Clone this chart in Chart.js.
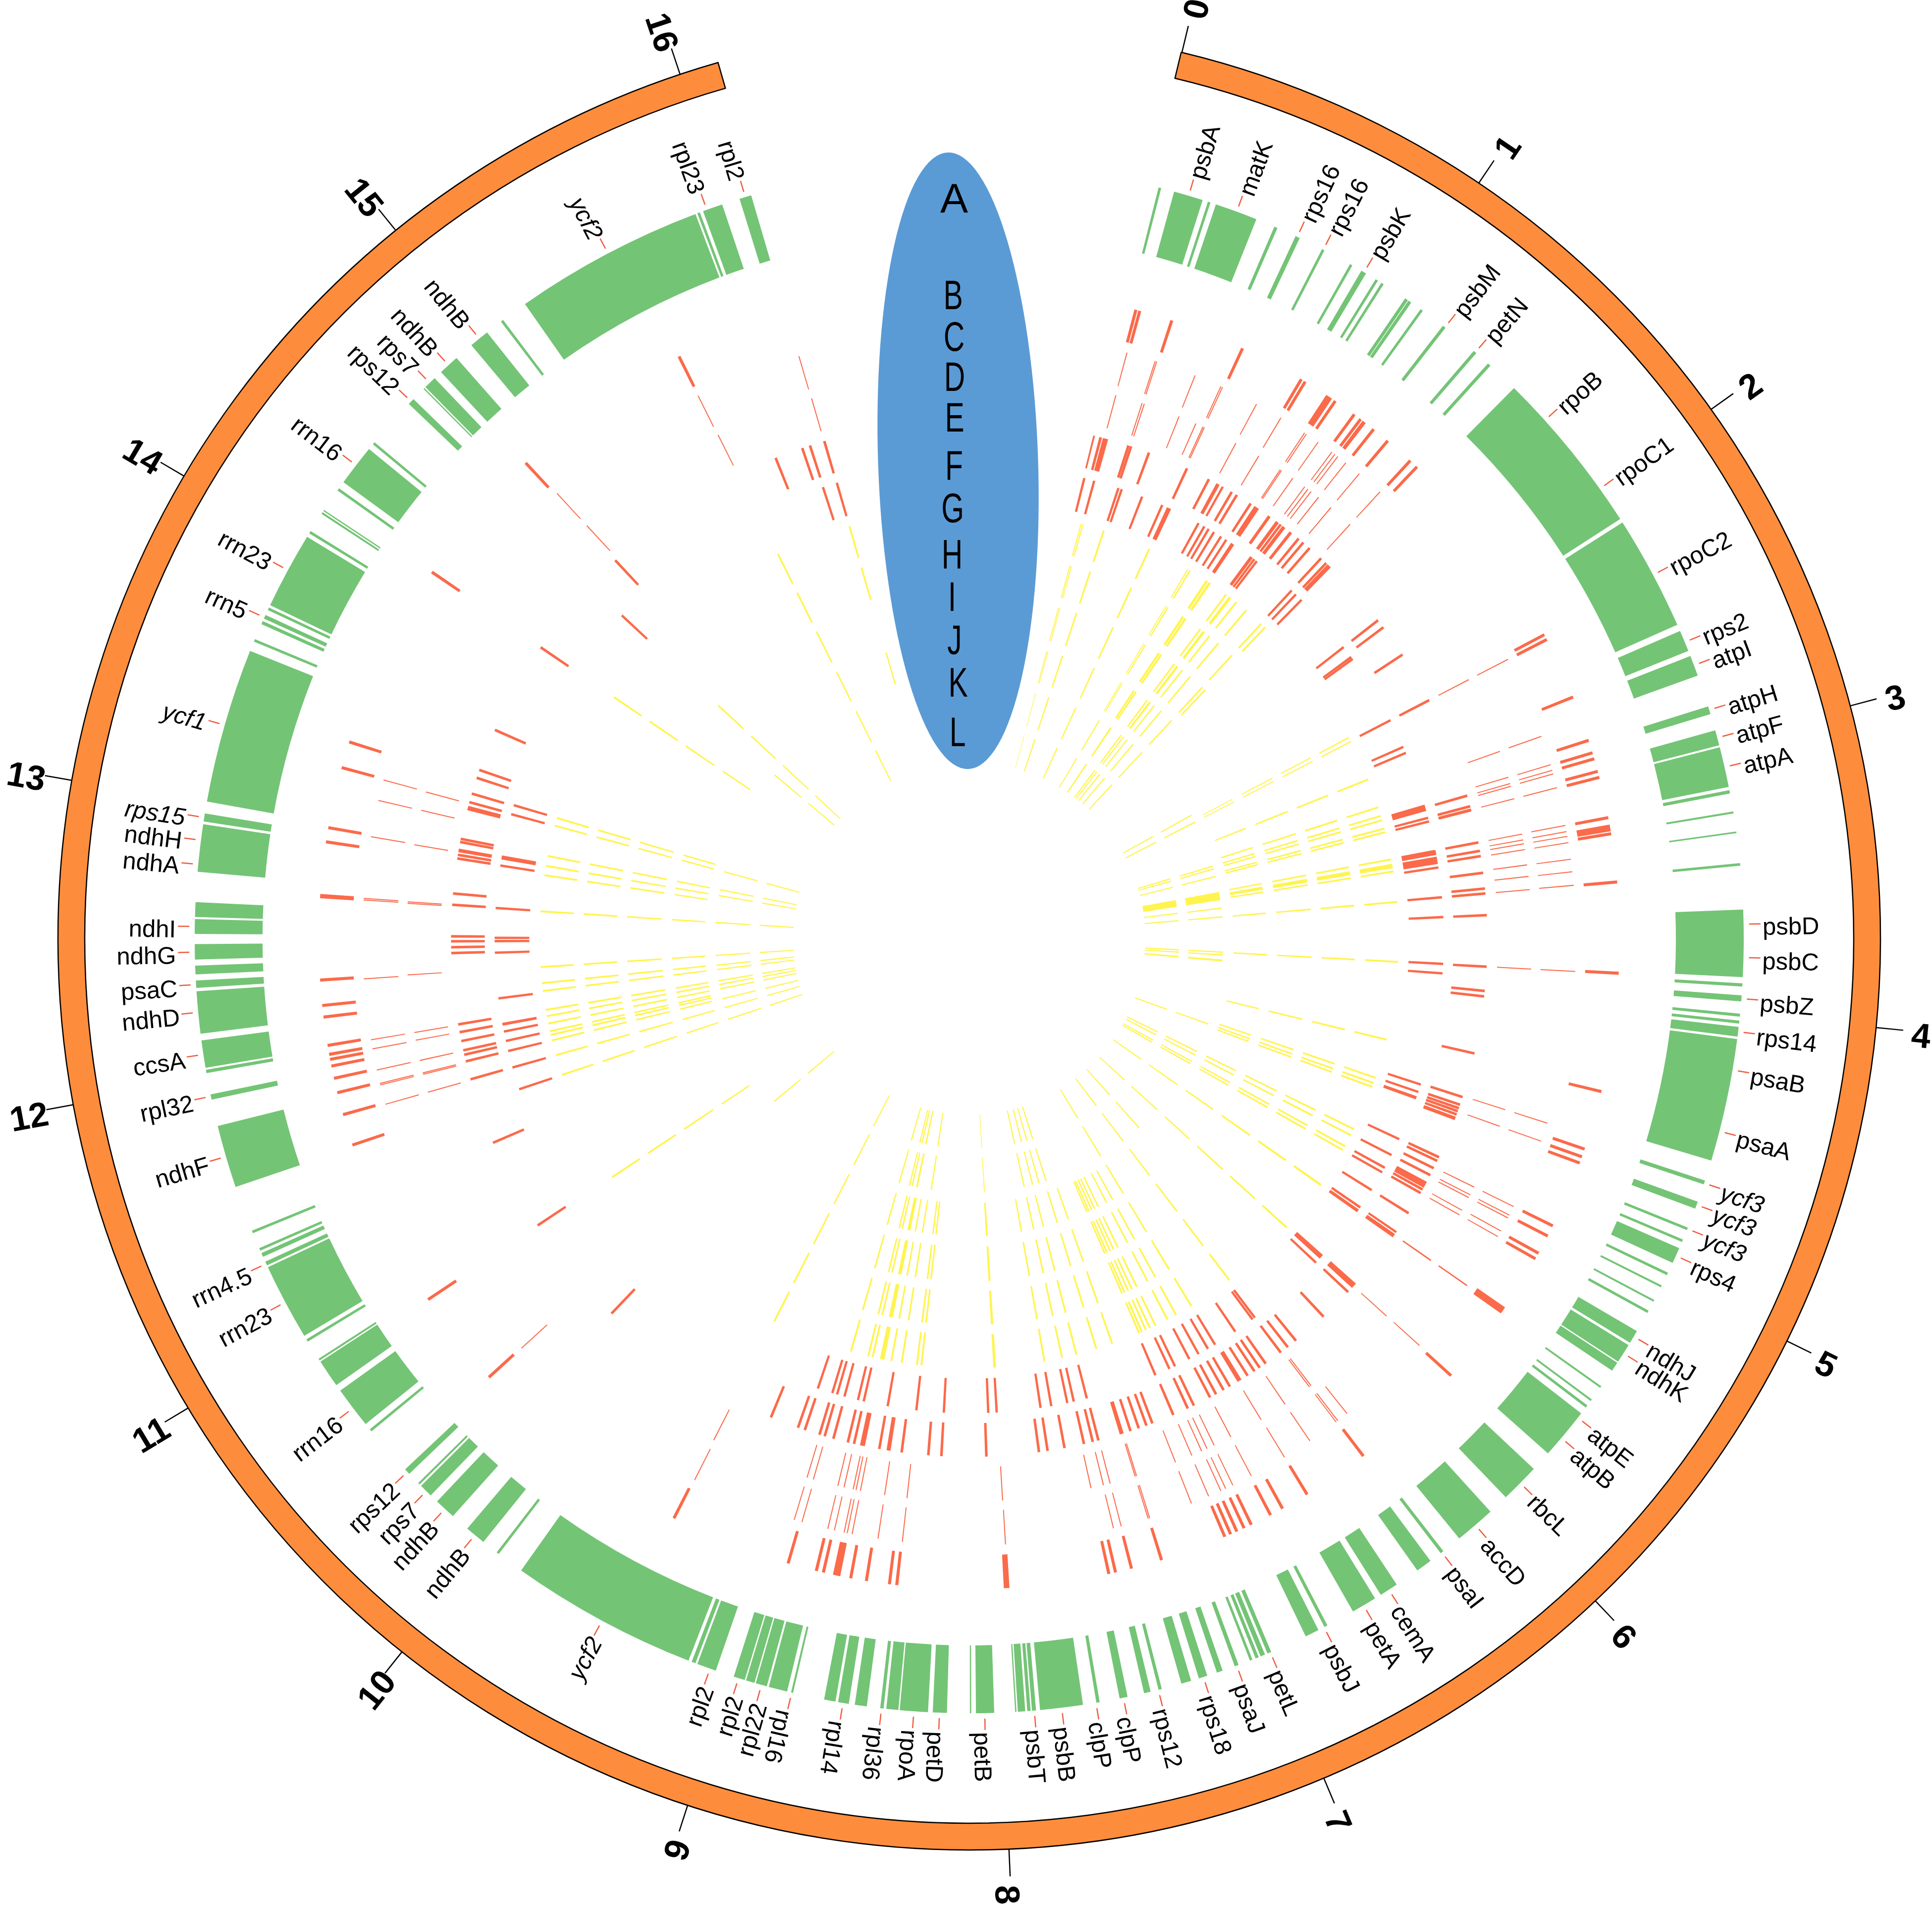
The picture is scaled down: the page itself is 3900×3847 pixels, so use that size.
<!DOCTYPE html>
<html><head><meta charset="utf-8"><title>Circular genome map</title>
<style>html,body{margin:0;padding:0;background:#fff}canvas{display:block}</style>
<script src="https://cdn.jsdelivr.net/npm/chart.js@4"></script></head>
<body><canvas id="c" width="3900" height="3847"></canvas>
<script>
// All values are positions on the circle, in degrees clockwise from the top.
const axisArc = [[13.45, 344]];
const axisTickLabels = ['0','1','2','3','4','5','6','7','8','9','10','11','12','13','14','15','16'];
const axisTickAngles = [13.5,34,54.5,75.2,95.6,116.2,136.6,157.1,177.5,198,218.5,239,259.5,280,300.5,321,341.5];

const geneArcs = [[14.15,14.35],[15.34,17.54],[17.95,18.15],[18.57,21.76],[23.2,23.45],[24.92,25.26],[27.1,27.3],[29.45,29.65],[30.42,30.82],[31.65,31.85],[32.15,32.35],[34.25,34.5],[34.55,34.8],[35.65,35.85],[37.7,37.95],[40.65,40.9],[42.05,42.3],[44.7,57.2],[57.5,66.1],[66.6,68.2],[68.6,70.15],[72.55,73.15],[74.4,75.55],[75.7,78.7],[78.95,79.2],[80.55,80.7],[82.05,82.17],[84.4,84.6],[87.85,92.85],[93.31,93.55],[94.2,94.65],[95.56,95.78],[96.08,96.3],[96.55,97.27],[97.45,106.65],[108.2,108.5],[109.85,110.4],[111.9,112.1],[112.85,113.05],[113.55,114.75],[115.55,115.75],[116.6,116.75],[117.8,117.95],[118.7,118.9],[120.45,121.45],[121.65,123.1],[123.2,123.9],[125.3,125.45],[126.5,126.65],[127.05,127.25],[127.8,131.65],[133.2,136.15],[137.7,140.75],[142.25,142.5],[143.45,144.65],[146.5,147.9],[148.4,150.3],[152.45,152.7],[153.2,154.25],[157.05,157.35],[157.55,157.9],[158.05,158.3],[158.55,158.75],[159.65,159.95],[160.9,161.35],[162.1,162.75],[163.35,164.1],[165.6,165.85],[166.45,166.95],[168.2,168.8],[170.3,170.55],[171.55,174.75],[175.05,175.35],[175.45,175.7],[175.85,176.4],[176.5,176.6],[178.15,179.5],[179.85,179.95],[181.65,182.7],[183.05,185.15],[185.25,186.15],[186.35,186.6],[187.6,188.5],[188.95,189.75],[189.95,190.8],[193.15,193.3],[193.6,195],[195.15,196],[196.1,196.75],[196.85,197.7],[199.1,200.55],[200.7,201],[201.25,215.35],[217.4,217.6],[218.85,220.4],[221.8,223.4],[224.05,225.05],[225.2,225.35],[226.3,226.75],[230.5,230.7],[231.2,234.3],[234.8,236.9],[237,237.15],[238.65,238.85],[239.15,244.9],[245.05,245.35],[245.75,246.05],[246.25,246.45],[247.65,247.85],[251.3,256],[258,258.4],[260,260.25],[260.4,262.45],[262.95,266.1],[266.35,266.9],[267.35,268],[268.45,269.6],[270.35,271.45],[271.6,272.7],[274.95,278.5],[278.7,279.3],[280.2,291.8],[292.55,292.75],[293.95,294.2],[294.4,294.7],[295.1,295.3],[295.5,301.25],[301.55,301.75],[303.25,303.4],[303.5,303.6],[305.35,305.55],[306.1,309.2],[309.65,309.85],[313.65,314.15],[315.2,315.3],[315.4,316.35],[317,318.55],[320,321.5],[322.8,323],[325,339.3],[339.45,339.65],[339.9,341.4],[342.75,343.65]];

const geneNames = ['psbA','matK','rps16','rps16','psbK','psbM','petN','rpoB','rpoC1','rpoC2','rps2','atpI','atpH','atpF','atpA','psbD','psbC','psbZ','rps14','psaB','psaA','ycf3','ycf3','ycf3','rps4','ndhJ','ndhK','atpE','atpB','rbcL','accD','psaI','cemA','petA','psbJ','petL','psaJ','rps18','rps12','clpP','clpP','psbB','psbT','petB','petD','rpoA','rpl36','rpl14','rpl16','rpl22','rpl2','rpl2','ycf2','ndhB','ndhB','rps7','rps12','rrn16','rrn23','rrn4.5','ndhF','rpl32','ccsA','ndhD','psaC','ndhG','ndhI','ndhA','ndhH','rps15','ycf1','rrn5','rrn23','rrn16','rps12','rps7','ndhB','ndhB','ycf2','rpl23','rpl2'];
const geneLabelAngles = [16.46,20.2,25.05,27.2,30.65,37.9,40.8,48,54.5,62,67.5,69.34,72.83,74.97,77.2,88.93,91.4,94.44,96.9,99.76,104.4,108.4,110.1,112,114.17,120.9,122.36,128.2,130.14,134.65,139.2,142.4,147.2,149.4,152.74,157.12,159.8,162.4,165.87,168.52,170.58,173.14,175.18,178.85,182.2,184.1,186.5,189.38,193.25,195.56,197.33,199.55,208.3,219.65,222.6,224.5,226.5,232.7,242,245.18,253.66,258.25,261.4,264.53,266.6,269,270.9,275.5,277.3,279,286,294.5,298.4,307.66,313.9,315.85,317.76,320.77,332.2,340.2,343.2];

const ringB = [14.85,15.2,18.15,24.85,30.7,31.1,[33.6,.6],34.25,36.3,37,[37.4,.35],38.45,40.05,42.7,43.5,62.15,62.62,68.2,72.25,73.4,73.95,75.1,75.65,79.28,[80.2,.6],80.72,85,93.05,103.6,108.88,109.6,110.18,116.2,117.2,118.92,119.48,[124.85,.65],132.2,142.7,148.7,151.2,152.4,154.3,155,155.7,156.3,156.86,162.8,165.55,167,167.6,[176.7,.5],186.4,187.05,189.1,190.5,[191.77,.65],192.96,193.6,196.17,207,227.6,236.3,251.5,254.3,256.3,257.6,258.7,259.3,259.75,260.55,263.07,264.1,266.35,[273.75,.38],278.56,279.82,285.25,287.6,304.3,317,333.5];
const ringC = [15.07,17.85,18,21.86,24.5,24.67,28.26,30.9,33.55,33.75,35.1,36.7,37.05,37.4,38.36,40,42.6,62.6,70.53,73.35,73.9,74.25,75.6,79.25,79.85,80.3,80.9,82.48,83.67,84.96,93.1,107.7,109.5,116.2,117.1,117.4,118.8,119.4,[124.87,.13],132.1,141.5,142.6,142.8,145.85,148.7,152.3,154.25,155,155.5,156.76,158.52,162.7,162.85,165.5,166.25,176.57,186.33,188.65,191.13,191.6,191.9,192.84,193.48,196,196.76,206.9,227.55,254.16,256.05,256.2,257.5,259.54,260.4,266.2,273.65,273.8,279.67,283.17,285.15,317.2,333.46,343.7];
const ringD = [15.11,17.9,18.13,21.9,23.75,24.55,24.7,28.29,30.96,33.55,33.7,35.1,36.6,37,37.4,38.36,40,42.6,62.6,70.57,73.33,74,74.3,75.6,79.3,79.9,80.3,80.9,82.47,83.65,85,93.1,107.7,109.47,116.2,117.08,117.4,118.86,119.4,[124.87,.15],132.12,142.6,142.8,145.85,148.75,152.3,154.2,155,155.6,156.7,158.5,162.7,162.85,165.5,166.2,167.5,176.6,186.35,188.65,191.15,191.6,191.9,192.85,193.5,196.08,196.75,207,254.16,256.05,256.2,257.5,259.6,260.4,266.3,273.6,273.75,279.6,283.18,285.1,317.2,333.5,343.73];
const ringE = [[13.95,.2],[14.7,.3],[15.25,.6],17.9,18.2,20.3,24.85,27.55,[28.7,.4],[29.3,.25],30.45,31.1,32.9,[33.7,.6],[35.4,.35],[36.5,.4],36.95,[37.4,.4],[38.37,.35],39.47,40.15,41.07,42.78,43.55,[44,.5],52.1,53.07,56.76,62.6,73.98,[75.2,.3],[75.62,.35],79.3,80.25,80.83,82.7,84.45,85,87.4,93.1,95.8,96.4,102.8,107.8,108.7,109.1,109.45,109.83,[110.3,.4],114.95,115.4,116.3,117.15,[118.35,.75],118.95,119.4,122,[124.5,.25],[124.97,.45],[132.05,.65],133,136.85,140.9,142.05,143.03,145.1,145.9,146.6,147.5,[148.55,.5],149.8,150.6,151.55,152.3,154.3,155.05,156.8,159.3,160,160.9,161.86,[162.88,.45],165.56,166.2,167.2,169.4,171.3,172.26,178.1,183.08,184.53,187.5,[188.96,.45],190,[191.9,.55],192.85,193.55,195.2,196.2,196.8,198.5,199.3,202.5,223.66,236.4,246.8,254.25,256.3,257.05,257.55,258.6,259.6,260.47,268.4,269.05,269.7,270.25,273.75,275,278.9,279.3,[279.8,.4],280.75,281.1,[284.6,.5],285.27,286.25,288.08,289,293.75,304.2,316.9,338.06,341.2,342.1,343.76];
const ringF = [14.04,15.27,18.33,18.75,21.37,24,[24.9,.55],28.9,29.7,30.3,31.05,32.05,32.8,[33.72,.45],[36.5,.4],36.92,37.3,42.8,43.5,44.45,52.1,53.6,53.9,62.6,66.17,66.95,[74,.8],75.25,75.7,[79.52,.65],[80.5,.9],81.38,85,87.4,93.05,94.2,107.9,108.85,[109.6,.4],115,117.13,[118.87,.3],119.5,122,[124.5,.3],[125,.4],[132.1,.6],133.05,143,143.35,145.9,148.8,149.8,151.1,152.37,154.3,155.05,156.9,165.65,167.27,168.07,170.04,171.35,176.68,177.7,183.07,186.4,189.9,192.85,193.56,195.25,196.17,196.77,198.6,251.5,254.24,256.3,257.55,258.7,[259.6,.35],262.77,268.3,269.7,270.1,273.7,278.86,[279.85,.5],285.2,286.33,312.93,342.05,343.8];

const spokesGtoJ = [[15.1,.15],[15.35,.15],18.25,24.8,[30.62,.15],[30.95,.2],[33.6,.35],[34.05,.35],36.75,[37.4,.4],38.45,40.15,42.85,[62.1,.18],[62.7,.18],68.25,72.2,73.4,74,75.15,75.65,79.35,[80.25,.6],81,85.1,93.1,103.6,108.9,109.65,110.2,116.35,117.25,118.9,119.5,[125,.3],132.3,142.7,148.85,151.2,152.5,154.3,155.1,155.7,156.3,156.7,160.55,162.77,165.55,167.5,169.9,[176.6,.35],186.4,187,189.05,190.45,[191.7,.6],193,193.6,196,207,236.25,251.5,254.25,256.3,257.05,257.55,258.6,259.6,260.45,263,264.05,266.2,273.65,278.5,279.75,281.1,285.25,286.3,304.2,333.55];
const ringGextra = [43.55,343.8];
const ringHextra = [343.8];
const ringIextra = [43.5,312.9];
const ringJextra = [312.9,343.8];
const spokesKtoL = [[15.15,.15],18.25,24.8,[30.8,.3],[33.9,.4],36.75,[37.4,.3],38.45,40.15,42.85,60.95,62.7,73.45,74.1,75.85,[80.35,1.9],83.1,85.1,93.05,93.7,[94.95,.45],109.65,116.35,117.25,118.9,119.5,125.05,132.3,138.05,142.75,148.85,162.4,164.06,165.55,167.5,[176.56,.2],188.6,[191.9,.4],193,193.6,196,207,230.15,251.5,254.25,256.3,258.6,259.6,260.45,263,264,266.2,273.65,279.75,281.1,285.25,310.06,312.9,333.55];

const ringLetters = ['A','B','C','D','E','F','G','H','I','J','K','L'];
const letterX = [1926,1924,1926,1927,1927,1926,1923,1922,1922,1927,1934,1933];
const letterY = [399,594,678,759,841,938,1024,1118,1203,1290,1376,1476];

// Geometry of the concentric tracks: outer and inner radius, default bar width in degrees
const ORANGE='#fd8d3c', GREEN='#74c476', RED='#fb6a4a', YELLOW='#fff44f', TEXTRED='#ef5b3f';
const tracks = [
  {arcs:axisArc, r:[1839.5,1785.5], color:ORANGE, border:true},
  {arcs:geneArcs, r:[1563.5,1426.5], color:GREEN},
  {bars:ringB, w:.27, r:[1313,1245], color:RED},
  {bars:ringC, w:.095, r:[1225,1155], color:RED},
  {bars:ringD, w:.105, r:[1136,1067], color:RED},
  {bars:ringE, w:.29, r:[1046,978], color:RED},
  {bars:ringF, w:.29, r:[958,888], color:RED},
  {bars:spokesGtoJ.concat(ringGextra), w:.25, r:[867,800], color:YELLOW},
  {bars:spokesGtoJ.concat(ringHextra), w:.26, r:[780,712], color:YELLOW},
  {bars:spokesGtoJ.concat(ringIextra), w:.27, r:[692,622], color:YELLOW},
  {bars:spokesGtoJ.concat(ringJextra), w:.28, r:[601,534], color:YELLOW},
  {bars:spokesKtoL, w:.3, r:[513,443], color:YELLOW},
  {bars:spokesKtoL, w:.34, r:[424,355.5], color:YELLOW}
];
function toArcs(t){
  if(t.arcs) return t.arcs;
  return t.bars.map(b=>{const c=Array.isArray(b)?b[0]:b,w=Array.isArray(b)?b[1]:t.w;return [c-w/2,c+w/2];});
}
function buildDataset(t,weight){
  const arcs=toArcs(t).slice().sort((a,b)=>a[0]-b[0]);
  const data=[],bg=[],bc=[],bw=[];let pos=0;
  for(const [s0,e] of arcs){
    const s=Math.max(s0,pos);
    if(e<=s) continue;
    if(s>pos){data.push(s-pos);bg.push('rgba(0,0,0,0)');bc.push('rgba(0,0,0,0)');bw.push(0);}
    data.push(e-s);bg.push(t.color);bc.push(t.border?'#000':t.color);bw.push(t.border?2.5:0);
    pos=e;
  }
  if(pos<360){data.push(360-pos);bg.push('rgba(0,0,0,0)');bc.push('rgba(0,0,0,0)');bw.push(0);}
  return {data,backgroundColor:bg,borderColor:bc,borderWidth:bw,borderJoinStyle:'miter',weight,hoverOffset:0,offset:0};
}
const datasets=[];
tracks.forEach((t,i)=>{
  datasets.push(buildDataset(t,t.r[0]-t.r[1]));
  const next=tracks[i+1];
  if(next) datasets.push({data:[360],backgroundColor:['rgba(0,0,0,0)'],borderWidth:0,weight:t.r[1]-next.r[0],hoverOffset:0});
});

const annotate={
  id:'annotate',
  afterDatasetsDraw(chart){
    const ctx=chart.ctx;
    const arc0=chart.getDatasetMeta(0).data[0];
    const cx=arc0.x, cy=arc0.y, R=arc0.outerRadius;
    const geneOuter=chart.getDatasetMeta(2).data[0].outerRadius;
    const pt=(deg,r)=>{const a=deg*Math.PI/180;return [cx+r*Math.sin(a),cy-r*Math.cos(a)];};
    const seg=(deg,r0,r1,color,lw)=>{const p=pt(deg,r0),q=pt(deg,r1);ctx.strokeStyle=color;ctx.lineWidth=lw;ctx.beginPath();ctx.moveTo(p[0],p[1]);ctx.lineTo(q[0],q[1]);ctx.stroke();};
    const radialText=(txt,deg,r,font,align,flipAt,dy)=>{
      const p=pt(deg,r);const flip=deg>flipAt;
      ctx.save();ctx.translate(p[0],p[1]);
      ctx.rotate((flip?deg-270:deg-90)*Math.PI/180);
      ctx.font=font;ctx.fillStyle='#000';ctx.textBaseline='middle';
      ctx.textAlign=align==='center'?'center':(flip?'right':'left');
      ctx.fillText(txt,0,dy);ctx.restore();
    };
    axisTickLabels.forEach((lab,i)=>{
      seg(axisTickAngles[i],R,R+55,'#000',2.5);
      radialText(lab,axisTickAngles[i],R+92,'bold 70px "Liberation Sans"','center',180,12);
    });
    geneNames.forEach((name,i)=>{
      const d=geneLabelAngles[i];
      seg(d,geneOuter+11,geneOuter+34,TEXTRED,2.5);
      const it=/^ycf|^rps15/.test(name)?'italic ':'';
      radialText(name,d,geneOuter+38,it+'49px "Liberation Sans"','edge',194,9);
    });
    ctx.save();
    ctx.fillStyle='#5b9bd5';
    ctx.beginPath();ctx.ellipse(1934,930,161.5,622.5,-1.9*Math.PI/180,0,2*Math.PI);ctx.fill();
    ringLetters.forEach((l,i)=>{
      ctx.save();ctx.translate(letterX[i],letterY[i]+7);
      if(i>0) ctx.scale(.7,1);
      ctx.font='84px "Liberation Sans"';ctx.fillStyle='#000';ctx.textAlign='center';ctx.textBaseline='middle';
      ctx.fillText(l,0,0);ctx.restore();
    });
    ctx.restore();
  }
};

new Chart(document.getElementById('c'),{
  type:'doughnut',
  data:{labels:[],datasets},
  plugins:[annotate],
  options:{
    responsive:false,animation:false,devicePixelRatio:1,events:[],
    rotation:0,circumference:360,cutout:355.5,
    layout:{padding:{left:115.75,right:102.75,top:53.75,bottom:111.75}},
    plugins:{legend:{display:false},tooltip:{enabled:false},title:{display:false}}
  }
});
</script></body></html>
